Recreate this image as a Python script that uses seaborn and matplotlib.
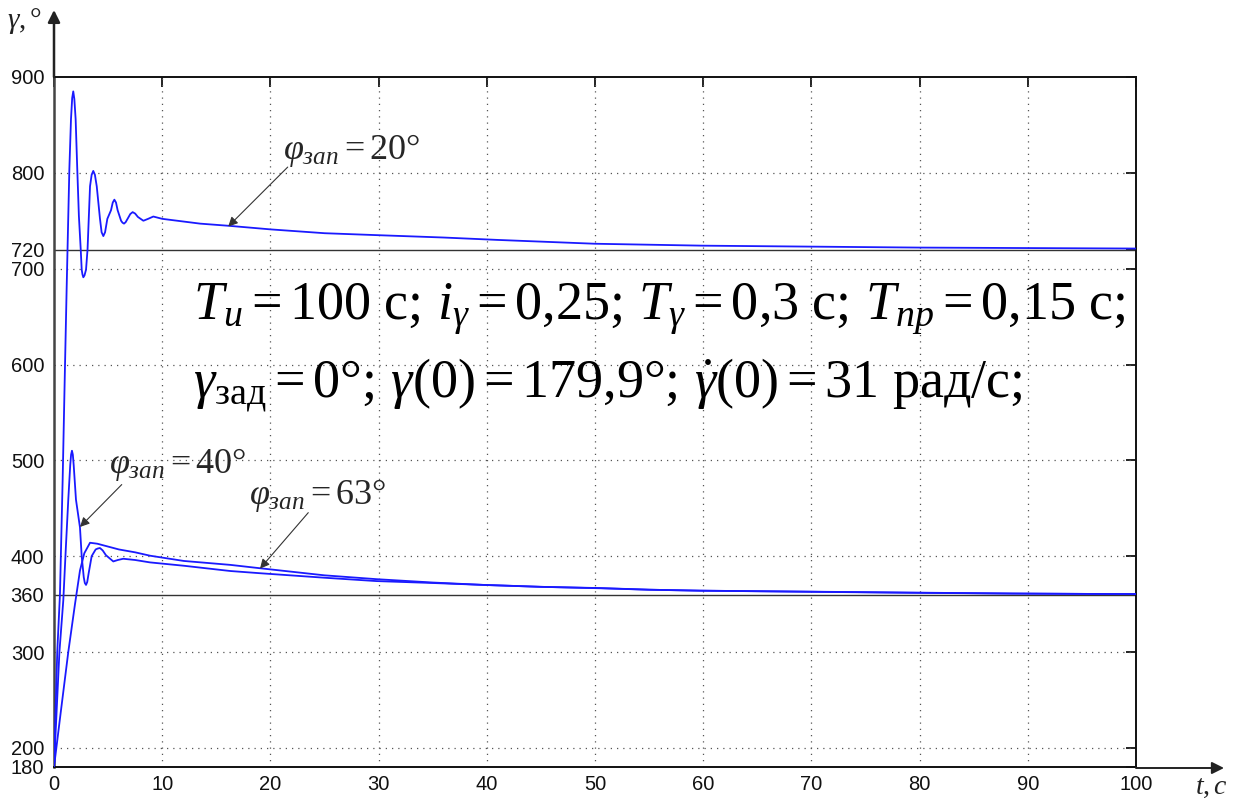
import numpy as np
import pandas as pd
import matplotlib
matplotlib.use('Agg')
import matplotlib.pyplot as plt
import seaborn as sns

# curve for phi_zap = 20 deg
t20 = [0, 0.3, 0.55, 0.8, 1.0, 1.17, 1.3, 1.42, 1.57, 1.68, 1.78, 1.88, 2.0, 2.15, 2.3,
       2.47, 2.56, 2.63, 2.71, 2.82, 2.96, 3.1, 3.33, 3.48, 3.63, 3.78, 3.95, 4.25, 4.4,
       4.56, 4.72, 4.93, 5.27, 5.43, 5.58, 5.73, 5.88, 6.2, 6.33, 6.47, 6.62, 6.85, 7.05,
       7.27, 7.5, 7.75, 8.26, 8.7, 9.18, 10, 10.7, 13.5, 16.3, 20, 25, 29.8, 36, 41,
       50, 60, 70, 80, 90, 100]
g20 = [180, 300, 360, 480, 590, 680, 745, 804, 856, 878, 885, 877, 856, 804, 755,
       720, 699, 694, 691, 693, 699, 720, 786, 798, 802, 798, 786, 752, 738,
       734, 738, 752, 761, 769, 772, 769, 761, 750, 748, 747, 748.5, 753, 757,
       759, 757.5, 754, 750, 752, 754.4, 752, 751, 747, 744.6, 741, 737, 735, 732.5, 730,
       726, 724, 723, 722, 721.5, 721]

# curve for phi_zap = 40 deg
t40 = [0, 0.5, 0.86, 1.1, 1.32, 1.5, 1.58, 1.66, 1.74, 1.82, 2.03, 2.4, 2.56, 2.75, 2.85,
       2.96, 3.07, 3.2, 3.48, 3.85, 4.05, 4.25, 4.5, 4.8, 5.48, 5.9, 6.4, 7.5, 8.87, 12,
       16.3, 19.04, 25, 29.8, 35, 39.7, 45, 50.5, 55, 59.7, 69.4, 79.1, 88.6, 97.6, 100]
g40 = [180, 300, 354, 410, 459, 495, 506, 510, 506, 495, 459, 430, 400, 378, 372,
       370, 373, 382, 400, 407, 408, 408.5, 406, 401, 394.5, 396, 397.3, 396, 393.5, 390,
       384.5, 382.2, 377.5, 374, 372, 370, 368, 366.5, 365, 364, 363, 362, 361, 360.5, 360.5]

# curve for phi_zap = 63 deg
t63 = [0, 0.6, 1.32, 1.94, 2.4, 2.8, 3.33, 4, 5, 6, 7.5, 8.87, 12, 16.3, 19.04, 25,
       29.8, 35, 39.7, 45, 50.5, 55, 59.7, 69.4, 79.1, 88.6, 97.6, 100]
g63 = [180, 235, 300, 350, 385, 403, 414, 413, 410, 407, 404, 400.5, 395, 390.9, 387.4, 380,
       376, 372.5, 370, 368, 366.7, 365, 364, 362.9, 361.8, 361, 360.5, 360.5]

x_ticks = list(range(0, 101, 10))
y_ticks = [180, 200, 300, 360, 400, 500, 600, 700, 720, 800, 900]

df = pd.concat([
    pd.DataFrame({'t': t20, 'gamma': g20, 'case': '20'}),
    pd.DataFrame({'t': t40, 'gamma': g40, 'case': '40'}),
    pd.DataFrame({'t': t63, 'gamma': g63, 'case': '63'}),
])

sns.set_style('white')
plt.rcParams['font.family'] = ['Liberation Sans', 'DejaVu Sans']
plt.rcParams['mathtext.fontset'] = 'custom'
plt.rcParams['mathtext.rm'] = 'Liberation Serif'
plt.rcParams['mathtext.it'] = 'Liberation Serif:italic'
plt.rcParams['mathtext.bf'] = 'Liberation Serif:bold'

W, H = 1234, 802
fig = plt.figure(figsize=(W / 100, H / 100), dpi=100)
ax = fig.add_axes([54 / W, 1 - 767 / H, (1136 - 54) / W, (767 - 77) / H])

sns.lineplot(data=df, x='t', y='gamma', hue='case', palette=['#1a1aff'] * 3,
             estimator=None, sort=False, legend=False, linewidth=1.3, ax=ax, zorder=5)

ax.set_xlim(0, 100)
ax.set_ylim(180, 900)
ax.set_xticks(x_ticks)
ax.set_yticks(y_ticks)
ax.set_xlabel('')
ax.set_ylabel('')
ax.tick_params(direction='in', top=True, right=True, length=7, width=1.3,
               labelsize=14.5, colors='#111111')
ax.tick_params(axis='x', pad=6)
ax.tick_params(axis='y', pad=7)

# dotted grid, solid lines at 360 and 720
for x in x_ticks[1:-1]:
    ax.axvline(x, color='#555555', lw=0.9, linestyle=(0, (1, 4)), zorder=1)
for y in [200, 300, 400, 500, 600, 700, 800]:
    ax.axhline(y, color='#555555', lw=0.9, linestyle=(0, (1, 4)), zorder=1)
for y in [360, 720]:
    ax.axhline(y, color='#333333', lw=1.0, zorder=2)

for s in ['top', 'right', 'bottom']:
    ax.spines[s].set_color('#111111')
    ax.spines[s].set_linewidth(1.4)
ax.spines['left'].set_color('#444444')
ax.spines['left'].set_linewidth(1.8)

# axis arrows
ax.annotate('', xy=(54 / W, 1 - 10 / H), xytext=(54 / W, 1 - 77 / H),
            xycoords='figure fraction',
            arrowprops=dict(arrowstyle='-|>', color='#222222', lw=1.8,
                            mutation_scale=18, shrinkA=0, shrinkB=0))
ax.annotate('', xy=(1224 / W, 1 - 768 / H), xytext=(1136 / W, 1 - 768 / H),
            xycoords='figure fraction',
            arrowprops=dict(arrowstyle='-|>', color='#222222', lw=1.4,
                            mutation_scale=18, shrinkA=0, shrinkB=0))
fig.text(7 / W, 1 - 28 / H, r'$\gamma,°$', fontsize=21, color='#222222')
fig.text(1195 / W, 1 - 794 / H, r'$t,c$', fontsize=20, color='#222222')

# parameter text
ax.text(12.85, 647, r'$T_{и} = 100\ \mathrm{с};\,i_{\gamma} = 0{,}25;\,T_{\gamma} = 0{,}3\ \mathrm{с};\,T_{пр} = 0{,}15\ \mathrm{с};$',
        fontsize=39, va='baseline', ha='left', color='black', zorder=6)
ax.text(12.85, 566.6, r'$\gamma_{\mathrm{зад}} = 0°;\,\gamma(0) = 179{,}9°;\,\dot{\gamma}(0) = 31\ \mathrm{рад/с};$',
        fontsize=39, va='baseline', ha='left', color='black', zorder=6)

# curve labels with arrows
arrow = dict(arrowstyle='-|>', color='#333333', lw=0.8, mutation_scale=14,
             shrinkA=0, shrinkB=0)
ax.text(21.2, 814, r'$\varphi_{зап} = 20°$', fontsize=26, va='baseline', zorder=6)
ax.annotate('', xy=(16.1, 744), xytext=(21.6, 806), arrowprops=arrow, zorder=6)
ax.text(5.1, 487, r'$\varphi_{зап} = 40°$', fontsize=26, va='baseline', zorder=6)
ax.annotate('', xy=(2.4, 430.5), xytext=(6.26, 474.7), arrowprops=arrow, zorder=6)
ax.text(18.0, 454, r'$\varphi_{зап} = 63°$', fontsize=26, va='baseline', zorder=6)
ax.annotate('', xy=(19.04, 387), xytext=(23.5, 445.4), arrowprops=arrow, zorder=6)

fig.savefig('out.png', dpi=100)
